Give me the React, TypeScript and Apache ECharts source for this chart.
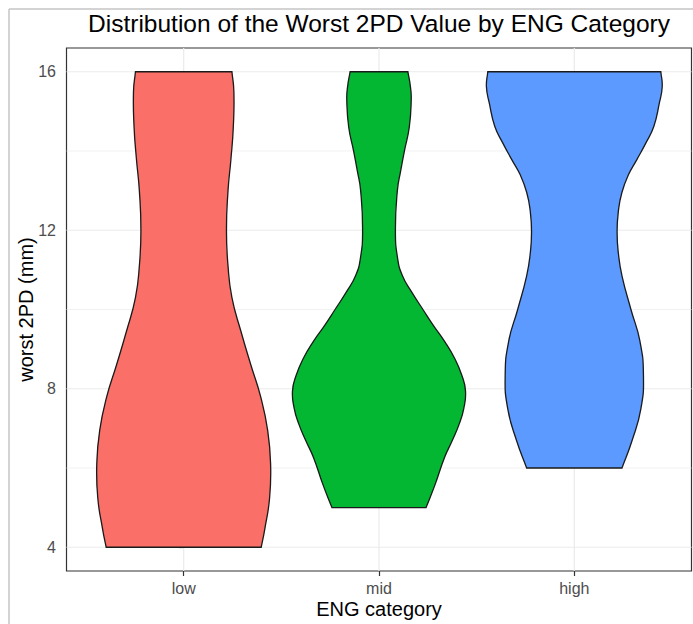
import React, { useEffect, useRef } from "react";
import * as echarts from "echarts";

const TITLE = "Distribution of the Worst 2PD Value by ENG Category";
const CATEGORIES = ["low", "mid", "high"];
const COLORS = ["#FA6F67", "#03B733", "#5C9AFF"];
const Y_TICKS = [4, 8, 12, 16];
const Y_MINOR = [6, 10, 14];

// violin outlines: y values (mm) and half-widths (in category units)
const LOW_Y = [4.0, 4.45, 5.25, 6.1, 6.95, 7.8, 8.6, 9.45, 10.3, 11.1, 12.0, 13.0, 13.8, 14.6, 15.5, 16.0];
const LOW_W = [0.397, 0.415, 0.44, 0.445, 0.43, 0.394, 0.344, 0.293, 0.247, 0.227, 0.219, 0.227, 0.242, 0.254, 0.257, 0.247];

const MID_Y = [5.0, 5.58, 6.26, 6.68, 7.1, 7.5, 7.94, 8.34, 8.77, 9.2, 9.6, 10.0, 10.45, 10.85, 11.3, 12.0, 13.0, 13.5, 14.0, 14.6, 15.3, 15.62, 16.0];
const MID_W = [0.241, 0.287, 0.335, 0.374, 0.41, 0.434, 0.443, 0.424, 0.387, 0.335, 0.278, 0.225, 0.166, 0.12, 0.095, 0.084, 0.094, 0.111, 0.13, 0.155, 0.165, 0.161, 0.148];

const HIGH_Y = [6.0, 6.68, 7.5, 8.34, 9.2, 10.0, 10.85, 11.4, 11.96, 12.5, 12.96, 13.4, 13.79, 14.2, 14.62, 15.2, 15.62, 16.0];
const HIGH_W = [0.244, 0.295, 0.341, 0.354, 0.336, 0.29, 0.244, 0.226, 0.219, 0.226, 0.244, 0.277, 0.321, 0.366, 0.407, 0.435, 0.45, 0.443];

const VIOLIN_Y = [LOW_Y, MID_Y, HIGH_Y];
const VIOLIN_W = [LOW_W, MID_W, HIGH_W];

const FONT = '"Liberation Sans", Arial, Helvetica, sans-serif';

export default function App() {
  const ref = useRef<HTMLDivElement>(null);
  useEffect(() => {
    if (!ref.current) return;
    const chart = echarts.init(ref.current, null, { renderer: "svg" });
    const gridData = [
      ...Y_TICKS.map((v) => [v, 1]),
      ...Y_MINOR.map((v) => [v, 0]),
    ];
    const option: any = {
      animation: false,
      backgroundColor: "#ffffff",
      textStyle: { fontFamily: FONT },
      grid: {
        left: 66.5,
        top: 48,
        width: 625,
        height: 525,
        show: true,
        backgroundColor: "#ffffff",
        borderColor: "#333333",
        borderWidth: 1.2,
        containLabel: false,
      },
      xAxis: {
        type: "value",
        min: -0.6,
        max: 2.6,
        name: "ENG category",
        nameLocation: "middle",
        nameGap: 28,
        nameMoveOverlap: false,
        nameTextStyle: { fontSize: 20, color: "#000000", fontFamily: FONT },
        axisLine: { show: false },
        axisTick: { show: true, length: 5, customValues: [0, 1, 2], lineStyle: { color: "#333333", width: 1.2 } },
        axisLabel: {
          customValues: [0, 1, 2],
          formatter: (v: number) => CATEGORIES[Math.round(v)],
          fontSize: 16,
          color: "#4D4D4D",
          margin: 9,
          fontFamily: FONT,
        },
        splitLine: { show: false },
      },
      yAxis: {
        type: "value",
        min: 3.4,
        max: 16.6,
        name: "worst 2PD (mm)",
        nameLocation: "middle",
        nameGap: 31,
        nameMoveOverlap: false,
        nameTextStyle: { fontSize: 20, color: "#000000", fontFamily: FONT },
        axisLine: { show: false },
        axisTick: { show: true, length: 5, customValues: Y_TICKS, lineStyle: { color: "#333333", width: 1.2 } },
        axisLabel: {
          customValues: Y_TICKS,
          fontSize: 16,
          color: "#4D4D4D",
          margin: 10.5,
          fontFamily: FONT,
        },
        splitLine: { show: false },
      },
      graphic: [
        {
          type: "line",
          silent: true,
          shape: { x1: 9, y1: 9, x2: 9, y2: 624 },
          style: { stroke: "#c4c4c4", lineWidth: 1.5 },
        },
        {
          type: "line",
          silent: true,
          shape: { x1: 9, y1: 9, x2: 693, y2: 9 },
          style: { stroke: "#c4c4c4", lineWidth: 1.5 },
        },
        {
          type: "text",
          x: 379,
          y: 23,
          style: {
            text: TITLE,
            fontSize: 24.5,
            fontFamily: FONT,
            fill: "#000000",
            align: "center",
            verticalAlign: "middle",
          },
        },
      ],
      series: [
        {
          type: "custom",
          name: "hgrid",
          silent: true,
          z: 1,
          data: gridData,
          renderItem: (params: any, api: any) => {
            const cs = params.coordSys;
            const p = api.coord([0, api.value(0)]);
            const major = api.value(1) === 1;
            return {
              type: "line",
              shape: { x1: cs.x, y1: p[1], x2: cs.x + cs.width, y2: p[1] },
              style: { stroke: "#EBEBEB", lineWidth: major ? 1.2 : 0.7 },
            };
          },
        },
        {
          type: "custom",
          name: "vgrid",
          silent: true,
          z: 1,
          data: CATEGORIES.map((_, i) => [i, 10]),
          renderItem: (params: any, api: any) => {
            const cs = params.coordSys;
            const p = api.coord([api.value(0), 10]);
            return {
              type: "line",
              shape: { x1: p[0], y1: cs.y, x2: p[0], y2: cs.y + cs.height },
              style: { stroke: "#EBEBEB", lineWidth: 1.2 },
            };
          },
        },
        {
          type: "custom",
          name: "violins",
          silent: true,
          z: 2,
          clip: false,
          data: CATEGORIES.map((_, i) => [i, 10]),
          renderItem: (params: any, api: any) => {
            const i = params.dataIndex;
            const ys = VIOLIN_Y[i];
            const ws = VIOLIN_W[i];
            const right = ys.map((y, k) => api.coord([i + ws[k], y]));
            const left = ys.map((y, k) => api.coord([i - ws[k], y])).reverse();
            const n = right.length;
            const pts: number[][] = [];
            pts.push(right[0]);
            right.forEach((p) => pts.push(p));
            pts.push(right[n - 1]);
            pts.push(left[0]);
            left.forEach((p) => pts.push(p));
            pts.push(left[n - 1]);
            return {
              type: "polygon",
              shape: { points: pts, smooth: 0.5 },
              style: { fill: COLORS[i], stroke: "#1a1a1a", lineWidth: 1.3 },
            };
          },
        },
      ],
    };
    chart.setOption(option);
    return () => chart.dispose();
  }, []);
  return (
    <div
      ref={ref}
      style={{ position: "absolute", left: 0, top: 0, width: 693, height: 624 }}
    />
  );
}
